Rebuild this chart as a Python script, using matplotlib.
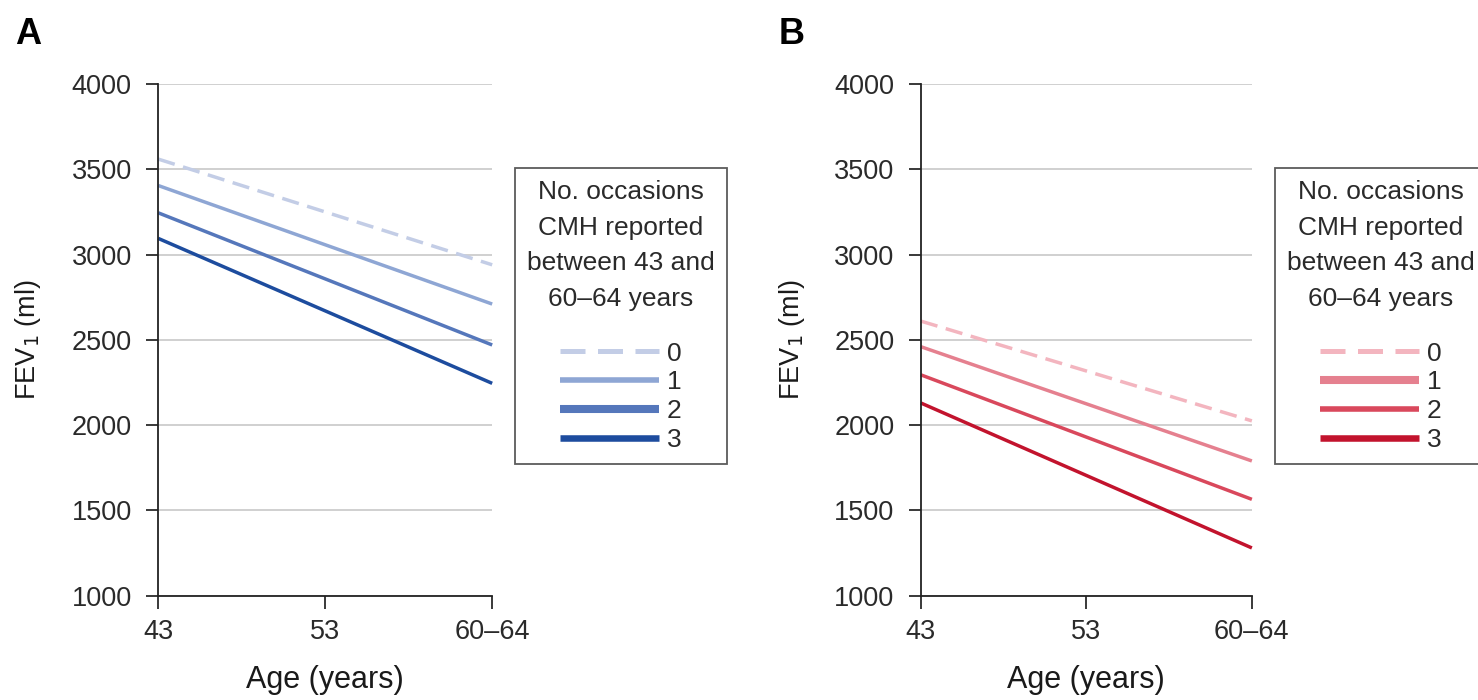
import matplotlib
matplotlib.use("Agg")
from matplotlib import pyplot as plt

plt.rcParams['font.family'] = ['Liberation Sans', 'DejaVu Sans']

# x categories
ages = ["43", "53", "60\u201364"]
age_pos = [0, 2]          # start and end of each fitted line (43 and 60-64)
occasions = ["0", "1", "2", "3"]

# panel A, FEV1 (ml) at 43 and at 60-64
fev_a_start = [3560, 3405, 3245, 3095]
fev_a_end = [2940, 2710, 2470, 2245]
# panel B
fev_b_start = [2610, 2460, 2295, 2130]
fev_b_end = [2025, 1790, 1565, 1280]

blues = ["#c3cde6", "#8ea6d4", "#5577bb", "#1d4c9e"]
reds = ["#f3b5bf", "#e5808f", "#d9485c", "#c2132d"]
styles = [(0, (5, 2.5)), "-", "-", "-"]

fig = plt.figure(figsize=(14.78, 7), dpi=100)
ax_a = fig.add_axes([0.107, 0.149, 0.226, 0.731])
ax_b = fig.add_axes([0.623, 0.149, 0.224, 0.731])

panels = [(ax_a, fev_a_start, fev_a_end, blues, [3.6, 4, 5.8, 4.7]),
          (ax_b, fev_b_start, fev_b_end, reds, [3.6, 5.8, 4, 4.7])]

for ax, start, end, cols, leg_widths in panels:
    for i in range(4):
        ax.plot(age_pos, [start[i], end[i]], color=cols[i], lw=2.5,
                linestyle=styles[i], solid_capstyle="butt", clip_on=False,
                label=occasions[i])
    ax.set_xlim(0, 2)
    ax.set_ylim(1000, 4000)
    ax.set_yticks(range(1000, 4001, 500))
    ax.set_xticks([0, 1, 2])
    ax.set_xticklabels(ages)
    ax.yaxis.grid(True, color="#c8c8c8", lw=1.2)
    ax.set_axisbelow(True)
    for s in ["top", "right"]:
        ax.spines[s].set_visible(False)
    for s in ["left", "bottom"]:
        ax.spines[s].set_linewidth(1.3)
        ax.spines[s].set_color("#222222")
    ax.tick_params(labelsize=19.5, length=9, width=1.3, colors="#2a2a2a")
    ax.tick_params(axis="y", pad=10)
    ax.tick_params(axis="x", pad=8)
    ax.set_xlabel("Age (years)", fontsize=22, color="#1a1a1a")
    ax.set_ylabel("FEV$_1$ (ml)", fontsize=19.5, color="#1a1a1a")
    ax.yaxis.set_label_coords(-0.345, 0.5)
    ax.xaxis.set_label_coords(0.5, -0.135)

    leg = ax.legend(title="No. occasions\nCMH reported\nbetween 43 and\n60\u201364 years",
                    loc="upper left", bbox_to_anchor=(1.069, 0.836),
                    fontsize=19, title_fontsize=19, frameon=True, fancybox=False,
                    edgecolor="#333333", handlelength=3.75, handletextpad=0.3,
                    labelspacing=0.18, borderpad=0.45, borderaxespad=0,
                    alignment="center")
    leg.get_frame().set_linewidth(1.3)
    leg.get_title().set_multialignment("center")
    leg.get_title().set_linespacing(1.62)
    leg._legend_box.sep = 22
    for t in leg.get_texts():
        t.set_color("#2a2a2a")
    leg.get_title().set_color("#2a2a2a")
    for h, w in zip(leg.get_lines(), leg_widths):
        h.set_linewidth(w)

fig.text(0.010, 0.975, "A", fontsize=26, fontweight="bold", va="top")
fig.text(0.527, 0.975, "B", fontsize=26, fontweight="bold", va="top")

plt.savefig("out.png", dpi=100)
